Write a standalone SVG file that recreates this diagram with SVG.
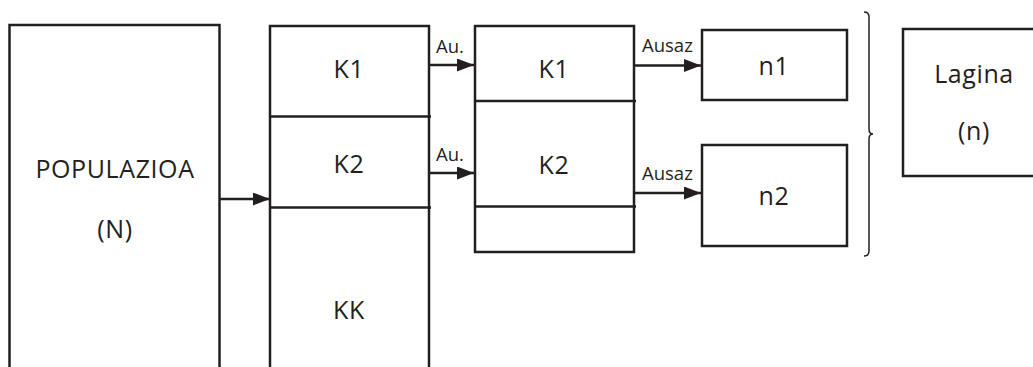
<svg xmlns="http://www.w3.org/2000/svg" width="1033" height="367" viewBox="0 0 1033 367">
<style>
.box{fill:none;stroke:#231f20;stroke-width:2.5}
.ln{fill:none;stroke:#231f20;stroke-width:2.5}
.t{font-family:"Open Sans","Noto Sans",sans-serif;font-size:25px;letter-spacing:0.6px;fill:#231f20;text-anchor:middle}
.s{font-family:"Open Sans","Noto Sans",sans-serif;font-size:18.5px;fill:#231f20}
.brace{fill:none;stroke:#231f20;stroke-width:1.5}
</style>
<defs>
<marker id="ah" markerUnits="userSpaceOnUse" markerWidth="18" markerHeight="14" refX="17" refY="6.5" orient="auto">
<path d="M0,0 L17,6.5 L0,13 Z" fill="#231f20"/>
</marker>
</defs>
<g id="populazioa">
<rect class="box" x="9.5" y="25" width="210" height="360"/>
<text class="t" x="115" y="178">POPULAZIOA</text>
<text class="t" x="115" y="238">(N)</text>
</g>
<g id="kgroups">
<rect class="box" x="270" y="26" width="159" height="360"/>
<line class="ln" x1="270" y1="116.5" x2="431" y2="116.5"/>
<line class="ln" x1="270" y1="207.5" x2="431" y2="207.5"/>
<text class="t" x="349" y="78">K1</text>
<text class="t" x="349" y="173">K2</text>
<text class="t" x="349" y="319">KK</text>
</g>
<g id="selected">
<rect class="box" x="475" y="26" width="159" height="226"/>
<line class="ln" x1="475" y1="101" x2="636" y2="101"/>
<line class="ln" x1="475" y1="206.5" x2="636" y2="206.5"/>
<text class="t" x="554" y="78">K1</text>
<text class="t" x="554" y="174">K2</text>
</g>
<g id="n1">
<rect class="box" x="702" y="30" width="145" height="70"/>
<text class="t" x="774" y="75">n1</text>
</g>
<g id="n2">
<rect class="box" x="702" y="145" width="145" height="101"/>
<text class="t" x="774" y="205">n2</text>
</g>
<g id="brace">
<path class="brace" d="M864,12 Q869,12 869,17 L869,129 Q869,134 873,134 Q869,134 869,139 L869,251 Q869,256 864,256"/>
</g>
<g id="lagina">
<rect class="box" x="903" y="29" width="140" height="147"/>
<text class="t" x="974" y="83">Lagina</text>
<text class="t" x="974" y="140">(n)</text>
</g>
<g id="connectors">
<line class="ln" x1="220" y1="199" x2="270" y2="199" marker-end="url(#ah)"/>
<line class="ln" x1="430" y1="65" x2="474" y2="65" marker-end="url(#ah)"/>
<line class="ln" x1="430" y1="173" x2="474" y2="173" marker-end="url(#ah)"/>
<line class="ln" x1="634" y1="65.5" x2="701" y2="65.5" marker-end="url(#ah)"/>
<line class="ln" x1="634" y1="193" x2="701" y2="193" marker-end="url(#ah)"/>
<text class="s" x="436" y="53">Au.</text>
<text class="s" x="436" y="161">Au.</text>
<text class="s" x="642" y="52">Ausaz</text>
<text class="s" x="642" y="180">Ausaz</text>
</g>
</svg>
